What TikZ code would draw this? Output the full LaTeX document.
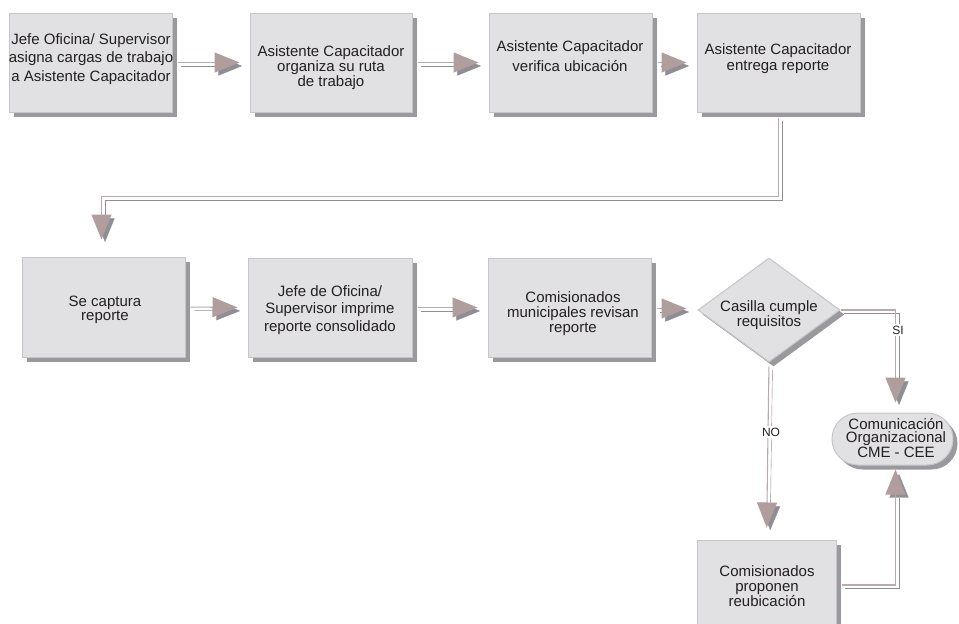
\documentclass[tikz,border=0pt]{standalone}
\usepackage{fontspec}
\setmainfont{Liberation Sans}
\usetikzlibrary{arrows.meta,shapes.geometric,shadows}

\definecolor{boxfill}{HTML}{E1E1E3}
\definecolor{boxline}{HTML}{C6C6C8}
\definecolor{shade}{HTML}{9A9A9E}
\definecolor{pinkline}{HTML}{BCA9A9}
\definecolor{pinkhead}{HTML}{B09E9E}
\definecolor{headshade}{HTML}{8E8E94}
\definecolor{ink}{HTML}{231F20}

\begin{document}
\begin{tikzpicture}[x=1pt,y=-1pt,
  cardshadow/.style={drop shadow={shadow xshift=4.5pt, shadow yshift=-4.5pt, fill=shade, opacity=1}},
  card/.style={rectangle, fill=boxfill, draw=boxline, line width=1pt, inner sep=0pt, cardshadow},
  decision/.style={diamond, fill=boxfill, draw=boxline, line width=1pt, inner sep=0pt, cardshadow},
  terminal/.style={rectangle, rounded corners=26pt, fill=boxfill, draw=boxline, line width=1pt, inner sep=0pt, cardshadow},
  txt/.style={align=center, text=ink, inner sep=0pt, font=\fontsize{15pt}{#1pt}\selectfont},
  branch/.style={fill=white, inner sep=1.5pt, text=ink, font=\fontsize{12pt}{12pt}\selectfont},
  flow/.style={draw=pinkline, line width=1.1pt,
    -{Triangle[length=25pt,width=20pt,color=pinkhead]},
    preaction={draw=headshade, transform canvas={shift={(3.5pt,-3.5pt)}},
      -{Triangle[length=25pt,width=20pt,color=headshade]}}}
]
\fill[white] (0,0) rectangle (959,624);
\path[use as bounding box, clip] (0,0) rectangle (959,624);

% process boxes, first row
\node[card, minimum width=163pt, minimum height=99pt] (box1) at (90.5,62.5) {};
\node[card, minimum width=162pt, minimum height=99pt] (box2) at (331,62.5) {};
\node[card, minimum width=163pt, minimum height=99pt] (box3) at (570.5,62.5) {};
\node[card, minimum width=163pt, minimum height=99pt] (box4) at (778.5,62.5) {};
% second row
\node[card, minimum width=163pt, minimum height=100pt] (box5) at (103.5,307) {};
\node[card, minimum width=164pt, minimum height=99pt] (box6) at (330,307.5) {};
\node[card, minimum width=163pt, minimum height=99pt] (box7) at (569.5,307.5) {};
\node[decision, minimum width=142pt, minimum height=104pt] (dia) at (769,310) {};
\node[terminal, minimum width=121pt, minimum height=52pt] (term) at (892.5,439) {};
\node[card, minimum width=139pt, minimum height=90pt] (box8) at (766.5,585) {};

% texts
\node[txt=18.5] (t1) at (91,59) {Jefe Oficina/ Supervisor\\asigna cargas de trabajo\\a Asistente Capacitador};
\node[txt=15] (t2) at (331,68) {Asistente Capacitador\\organiza su ruta\\de trabajo};
\node[txt=20] (t3) at (570,56) {Asistente Capacitador\\verifica ubicación};
\node[txt=16] (t4) at (778,59) {Asistente Capacitador\\entrega reporte};
\node[txt=14.5] (t5) at (105,310) {Se captura\\reporte};
\node[txt=17.5] (t6) at (330,310) {Jefe de Oficina/\\Supervisor imprime\\reporte consolidado};
\node[txt=15] (t7) at (573,314) {Comisionados\\municipales revisan\\reporte};
\node[txt=15] (t9) at (769,315) {Casilla cumple\\requisitos};
\node[txt=13.5] (t10) at (896,438) {Comunicación\\Organizacional\\CME - CEE};
\node[txt=15] (t8) at (767,586) {Comisionados\\proponen\\reubicación};

% connectors
\draw[flow, shorten <=5pt, shorten >=10pt] (box1.east) -- (box2.west);
\draw[flow, shorten <=5pt, shorten >=10pt] (box2.east) -- (box3.west);
\draw[flow, shorten <=5pt, shorten >=10pt] (box3.east) -- (box4.west);
\coordinate (elbow) at (0,196.5);
\draw[flow, shorten <=5pt, shorten >=17pt] (box4.south) -- (box4.south |- elbow)
  -- ([xshift=-2pt]box5.north |- elbow) -- ([xshift=-2pt]box5.north);
\draw[flow, shorten <=5pt, shorten >=10pt] (box5.east) -- (box6.west);
\draw[flow, shorten <=5pt, shorten >=10pt] (box6.east) -- (box7.west);
\draw[flow, shorten <=5pt, shorten >=11pt] ([yshift=-1pt]box7.east) -- ([yshift=-1pt]box7.east -| dia.west);
\draw[flow, shorten >=10pt] (dia.east) -| ([xshift=3pt]term.north);
\draw[flow, shorten <=4pt, shorten >=12pt] (dia.south) -- (box8.north);
\draw[flow, shorten <=5pt, shorten >=4pt] (box8.east) -| ([xshift=3pt]term.south);

% branch labels
\node[branch] (si) at (898,330) {SI};
\node[branch] (no) at (771,432) {NO};
\end{tikzpicture}
\end{document}
